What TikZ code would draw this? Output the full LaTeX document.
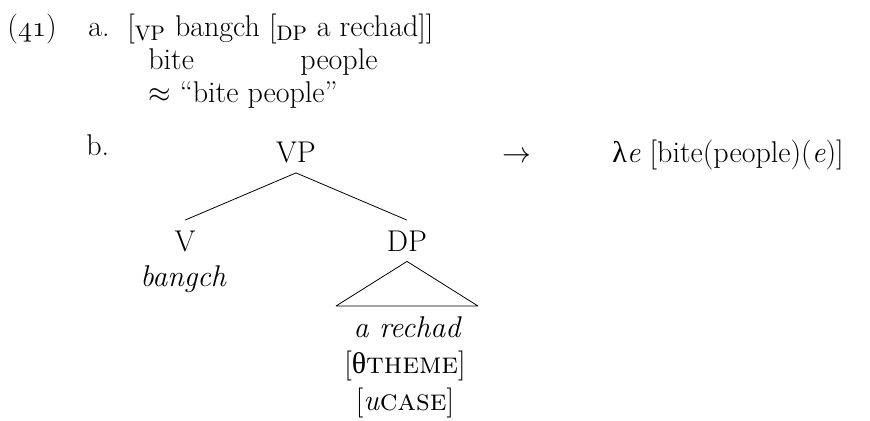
\documentclass[tikz,border=0pt]{standalone}
\usepackage{fontspec}
\newfontfamily\grk{Liberation Serif}
\tikzset{every node/.style={inner sep=0pt},
	txt/.style={anchor=base west},
	cat/.style={anchor=base,inner ysep=5pt},
	lex/.style={anchor=base,execute at begin node=\itshape},
	feat/.style={anchor=base},
	roof/.style={draw,line join=round}}

\begin{document}
\begin{tikzpicture}[x=0.5pt,y=-0.5pt,font=\fontsize{15}{17}\selectfont]
	\useasboundingbox (0,0) rectangle (870,420);
	% (a): the bracketed string with its glosses
	\node[txt] (exnum) at (7,36) {($\mathnormal{41}$)};
	\node[txt] (suba) at (88,36) {a.};
	\node[txt] (str) at (127,36) {[\textsubscript{VP} bangch [\textsubscript{DP} a rechad]]};
	\node[txt] (gla) at (148,69) {bite};
	\node[txt] (glb) at (300,69) {people};
	\node[txt] (trans) at (148,102) {$\approx$ ``bite people''};
	% (b): the tree and its meaning
	\node[txt] (subb) at (86,155) {b.};
	\node[cat] (vp) at (296,162) {VP};
	\node[cat] (v) at (185,251) {V};
	\node[lex] (bangch) at (183,286) {bangch};
	\node[cat] (dp) at (407,251) {DP};
	\node[lex] (rechad) at (407,337) {a rechad};
	\node[feat] (theta) at (405,373) {[{\grk θ}\textsc{theme}]};
	\node[feat] (case) at (405,410) {[\textit{u}\textsc{case}]};
	\coordinate (roofl) at (336,306);
	\coordinate (roofr) at (478,306);
	\draw (vp.south) -- (v.north);
	\draw (vp.south) -- (dp.north);
	\draw[roof] (dp.south) -- (roofl) -- (roofr) -- cycle;
	\node[anchor=base] (to) at (517,162) {$\rightarrow$};
	\node[txt] (sem) at (612,162) {{\grk λ}\textit{e} [bite(people)(\textit{e})]};
\end{tikzpicture}
\end{document}
